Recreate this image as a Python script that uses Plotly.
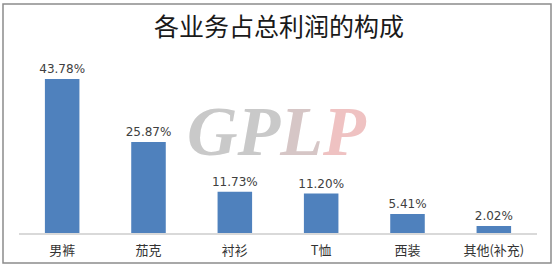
import plotly.graph_objects as go

categories = ["男裤", "茄克", "衬衫", "T恤", "西装", "其他(补充)"]
values = [43.78, 25.87, 11.73, 11.20, 5.41, 2.02]
labels = ["43.78%", "25.87%", "11.73%", "11.20%", "5.41%", "2.02%"]
title_text = "各业务占总利润的构成"

fig = go.Figure()
fig.add_trace(go.Bar(
    x=categories, y=values, text=labels,
    textposition="outside", cliponaxis=False, constraintext="none",
    textfont=dict(family="DejaVu Sans", size=12, color="#404040"),
    marker=dict(color="#4f81bd", line=dict(width=0)),
    width=0.4,
))

W, H = 558, 268
L, R, T, B = 19, 21, 57, 35
pw, ph = W - L - R, H - T - B

def px(xp):
    return (xp - L) / pw

def py(yp):
    return (H - B - yp) / ph

fig.add_shape(type="rect", xref="paper", yref="paper",
              x0=px(3), x1=px(551), y0=py(263), y1=py(4),
              line=dict(color="#8c8c8c", width=1.5), layer="below")

fig.add_annotation(
    xref="paper", yref="paper", x=px(277), y=py(131),
    text="<b><i><span style='color:#c9c9c9'>GP</span><span style='color:#d6c6c6'>L</span><span style='color:#efc2c2'>P</span></i></b>",
    showarrow=False, font=dict(family="Liberation Serif", size=70),
    xanchor="center", yanchor="middle",
)

fig.update_layout(
    width=W, height=H,
    margin=dict(l=L, r=R, t=T, b=B),
    paper_bgcolor="white", plot_bgcolor="white",
    showlegend=False,
    bargap=0.6,
    title=dict(text=title_text, x=0.5, xanchor="center", y=1 - 27 / H, yanchor="middle",
               font=dict(family="Noto Sans CJK SC", size=25, color="#1a1a1a")),
    xaxis=dict(showgrid=False, showline=True, linecolor="#d9d9d9", linewidth=1.5,
               ticks="", ticklabelstandoff=5, automargin=False,
               tickfont=dict(family="Noto Sans CJK SC", size=13, color="#333333")),
    yaxis=dict(range=[0, 50], visible=False, showgrid=False, zeroline=False),
)

fig.write_html("out.html")
